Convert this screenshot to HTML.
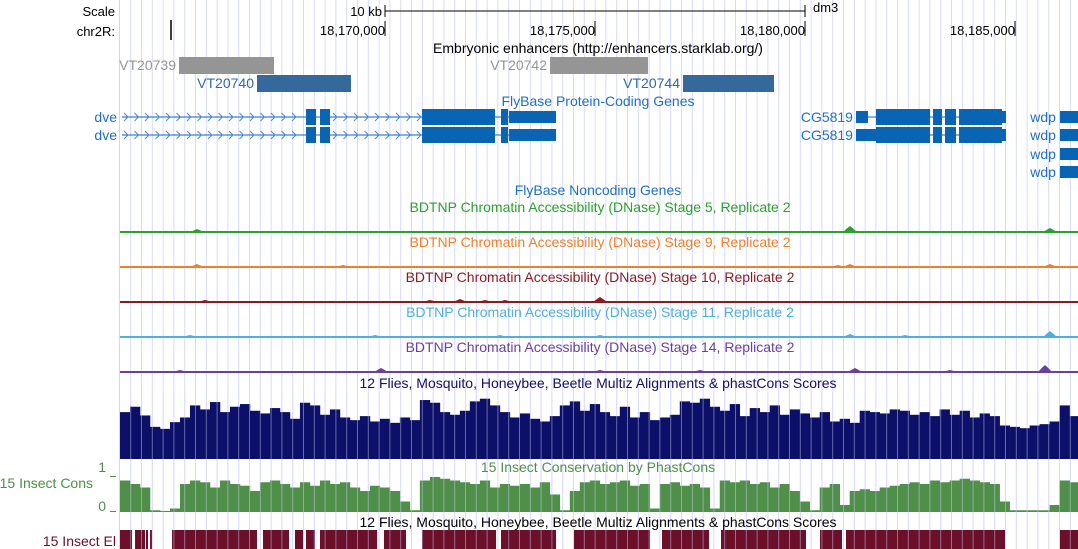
<!DOCTYPE html>
<html><head><meta charset="utf-8"><style>
html,body{margin:0;padding:0;background:#fff;}
svg{display:block;font-family:"Liberation Sans",sans-serif;font-size:13px;}
.tt{font-size:14px;}
</style></head><body>
<svg id="chart" width="1078" height="549" viewBox="0 0 1078 549" xmlns="http://www.w3.org/2000/svg">
<g id="grid"></g>
<line x1="119.5" y1="0" x2="119.5" y2="549" stroke="#ffc8c8"/>
<g id="marks"></g>
<g id="labels"></g>
</svg>
<script>
const viewStart = 18163690, viewEnd = 18186500;
const tickPositions = [18170000, 18175000, 18180000, 18185000];
const tickLabels = ["18,170,000", "18,175,000", "18,180,000", "18,185,000"];
const enhancerNames = ["VT20739", "VT20740", "VT20742", "VT20744"];
const enhancerStarts = [18165095, 18166952, 18173929, 18177095];
const enhancerEnds = [18167357, 18169190, 18176262, 18179262];
const enhancerRows = [0, 1, 0, 1];
const enhancerGrey = [true, false, true, false];
const dveExonStarts = [18168119, 18168452, 18170881, 18172762];
const dveExonEnds = [18168357, 18168690, 18172619, 18172929];
const dveUtr = [18172929, 18174072];
const cgExonStarts = [18181690, 18183048, 18183333, 18183667];
const cgExonEnds = [18182976, 18183262, 18183595, 18184690];
const cgUtr5 = [18181214, 18181500];
const cgUtr3 = [18184690, 18184786];
const wdpStart = 18186071;
const dnaseNames = ["Stage 5", "Stage 9", "Stage 10", "Stage 11", "Stage 14"];
const dnasePeakPos = [
 [18165524, 18168929, 18170238, 18172024, 18172976, 18175119, 18181071, 18185833],
 [18165524, 18169000, 18170310, 18180786, 18181071, 18185833],
 [18165714, 18171071, 18171786, 18172381, 18172857, 18175119, 18181190, 18185833],
 [18165357, 18168690, 18169762, 18172738, 18175119, 18181071, 18182381, 18185833],
 [18165119, 18169905, 18175119, 18177500, 18181190, 18183452, 18185714]
];
const dnasePeakHeights = [
 [3, 1, 1, 1, 1, 1, 6, 4],
 [3, 2, 1, 2, 3, 3],
 [2, 2, 3, 2, 2, 5, 1, 1],
 [2, 1, 2, 2, 2, 3, 2, 6],
 [2, 4, 2, 2, 4, 2, 7]
];
const binStart = 18163690, binSize = 238;
const multizScores = [70,78,65,48,45,55,62,80,74,85,70,78,82,72,68,76,70,60,84,80,66,74,62,58,64,56,60,54,62,58,88,84,70,66,72,86,90,80,70,62,68,60,56,64,80,86,72,82,70,64,78,62,70,58,62,66,86,84,90,78,72,82,64,76,70,80,66,74,68,62,70,56,60,54,72,70,68,74,72,66,70,64,74,66,72,62,68,64,50,48,46,50,52,56,80,64];
const consScores = [.9,.8,.7,.05,.03,.1,.8,.9,.85,.7,.9,.8,.75,.6,.85,.9,.8,.7,.85,.75,.9,.8,.85,.7,.6,.75,.7,.6,.3,.05,.9,1,.95,.9,.85,.8,.9,.7,.8,.75,.8,.7,.85,.5,.05,.6,.85,.9,.8,.85,.9,.75,.8,.1,.8,.85,.75,.8,.7,.1,.9,.85,.9,.8,.85,.7,.8,.6,.3,.05,.7,.8,.2,.6,.65,.6,.7,.75,.8,.85,.8,.9,.85,.9,.95,.9,.85,.8,.3,.05,.05,.05,.05,.2,.9,.85];
const elementStarts = [18163690,18164048,18164309,18164405,18164929,18167095,18167857,18168119,18168452,18169976,18170881,18172762,18174500,18176595,18178000,18180357,18180976,18186071];
const elementEnds = [18163976,18164286,18164357,18164452,18166952,18167714,18168048,18168333,18169810,18170500,18172643,18174072,18176310,18177714,18180024,18180881,18184762,18186500];

const NS = "http://www.w3.org/2000/svg";
const X0 = 120, X1 = 1078;
function xs(p){ return X0 + (p - viewStart) / (viewEnd - viewStart) * (X1 - X0); }
const marks = document.getElementById('marks');
const labels = document.getElementById('labels');
function el(tag, attrs, parent){ const e = document.createElementNS(NS, tag); for (const k in attrs) e.setAttribute(k, attrs[k]); (parent||marks).appendChild(e); return e; }
function txt(x, y, s, fill, anchor, name, cls){
  const t = el('text', {x:x, y:y, fill:fill, 'text-anchor':anchor}, labels);
  if (cls) t.setAttribute('class', cls);
  t.textContent = s;
  
  
  return t;
}

const grid = document.getElementById('grid');
for (let x = 130.7; x < 1078; x += 10.8) {
  const l = el('line', {x1:x.toFixed(1), y1:0, x2:x.toFixed(1), y2:549, stroke:'#d9d9ff', 'stroke-width':1}, grid);
  
  
}

txt(115, 16, "Scale", "#000", "end", "scale-label");
txt(115, 36, "chr2R:", "#000", "end", "chromosome-label");
const sb = el('path', {d:`M${xs(18170000)},5 v12 M${xs(18170000)},11 H${xs(18180000)} M${xs(18180000)},5 v12`, stroke:'#000', fill:'none'});


txt(xs(18170000) - 3, 16, "10 kb", "#000", "end", "scale-bar-label");
txt(xs(18180000) + 8, 12, "dm3", "#000", "start", "assembly-label");
const t0 = el('line', {x1:171, y1:20, x2:171, y2:40, stroke:'#000', 'stroke-width':1.5});


tickPositions.forEach((p, i) => {
  const x = xs(p);
  const t = el('line', {x1:x, y1:21, x2:x, y2:36, stroke:'#000'});
  
  
  txt(x, 35, tickLabels[i], "#000", "end", "ruler-tick-label");
});

txt(598, 53, "Embryonic enhancers (http://enhancers.starklab.org/)", "#000", "middle", "enhancer-track-title", "tt");
enhancerNames.forEach((n, i) => {
  const y = 57 + enhancerRows[i] * 18;
  const c = enhancerGrey[i] ? '#959595' : '#35699b';
  const r = el('rect', {x:xs(enhancerStarts[i]), y:y, width:xs(enhancerEnds[i]) - xs(enhancerStarts[i]), height:17, fill:c});
  
  
  txt(xs(enhancerStarts[i]) - 3, y + 13, n, c, "end", "enhancer-label", "tt");
});

const gc = '#0a64b4', gt = '#1f6fc4';
txt(598, 106, "FlyBase Protein-Coding Genes", gt, "middle", "protein-coding-track-title", "tt");
[117, 135].forEach((cy, row) => {
  txt(117, cy + 5, "dve", gt, "end", "gene-label-dve", "tt");
  const ln = el('line', {x1:122, y1:cy, x2:xs(dveUtr[1]), y2:cy, stroke:gc});
  
  
  let d = '';
  for (let x = 124; x < xs(dveExonStarts[0]) - 5; x += 10.5) d += `M${x},${cy-4} l4,4 l-4,4 `;
  for (let x = xs(dveExonEnds[1]) + 3; x < xs(dveExonStarts[2]) - 5; x += 10.5) d += `M${x},${cy-4} l4,4 l-4,4 `;
  const ch = el('path', {d:d, stroke:'#4a8ad6', fill:'none'});
  
  
  dveExonStarts.forEach((s, i) => {
    const r = el('rect', {x:xs(s), y:cy - 8, width:xs(dveExonEnds[i]) - xs(s), height:16, fill:gc});
    
    
  });
  const u = el('rect', {x:xs(dveUtr[0]) + 1, y:cy - 6, width:xs(dveUtr[1]) - xs(dveUtr[0]) - 1, height:12, fill:gc});
  
  
  txt(xs(cgUtr5[0]) - 3, cy + 5, "CG5819", gt, "end", "gene-label-CG5819", "tt");
  const l2 = el('line', {x1:xs(cgUtr5[0]), y1:cy, x2:xs(cgUtr3[1]), y2:cy, stroke:gc});
  
  
  const u5 = row === 0
    ? el('rect', {x:xs(cgUtr5[0]), y:cy - 6, width:xs(cgUtr5[1]) - xs(cgUtr5[0]), height:12, fill:gc})
    : el('rect', {x:xs(cgUtr5[0]), y:cy - 6, width:xs(cgExonStarts[0]) - xs(cgUtr5[0]), height:12, fill:gc});
  
  
  cgExonStarts.forEach((s, i) => {
    const r = el('rect', {x:xs(s), y:cy - 8, width:xs(cgExonEnds[i]) - xs(s), height:16, fill:gc});
    
    
  });
  const u3 = el('rect', {x:xs(cgUtr3[0]), y:cy - 6, width:xs(cgUtr3[1]) - xs(cgUtr3[0]), height:12, fill:gc});
  
  
});
[117, 135, 154, 172].forEach(cy => {
  txt(xs(wdpStart) - 4, cy + 5, "wdp", gt, "end", "gene-label-wdp", "tt");
  const r = el('rect', {x:xs(wdpStart), y:cy - 6, width:X1 - xs(wdpStart), height:12, fill:gc});
  
  
});
txt(598, 195, "FlyBase Noncoding Genes", gt, "middle", "noncoding-track-title", "tt");

const dnaseColors = ['#2ca02c', '#f07f2a', '#8c1a1f', '#4fb0dd', '#6a3fa0'];
const dnaseBase = [232, 267, 302, 337, 372];
dnaseNames.forEach((n, i) => {
  const b = dnaseBase[i];
  txt(600, b - 20, "BDTNP Chromatin Accessibility (DNase) " + n + ", Replicate 2", dnaseColors[i], "middle", "dnase-track-title", "tt");
  const bl = el('rect', {x:X0, y:b - 1, width:X1 - X0, height:2, fill:dnaseColors[i]});
  
  
  dnasePeakPos[i].forEach((p, j) => {
    const x = xs(p), h = dnasePeakHeights[i][j];
    const pk = el('path', {d:`M${x-7},${b} L${x-3},${b-h*0.6} L${x},${b-h} L${x+3},${b-h*0.6} L${x+7},${b} Z`, fill:dnaseColors[i]});
    
    
  });
});

txt(598, 388, "12 Flies, Mosquito, Honeybee, Beetle Multiz Alignments & phastCons Scores", "#10106a", "middle", "multiz-track-title", "tt");
const mzBase = 459, mzH = 67;
multizScores.forEach((v, i) => {
  const x0 = xs(binStart + i * binSize), x1 = xs(binStart + (i + 1) * binSize);
  const h = v / 100 * mzH;
  const r = el('rect', {x:x0.toFixed(2), y:(mzBase - h).toFixed(2), width:(x1 - x0 + 0.3).toFixed(2), height:h.toFixed(2), fill:'#0c1068'});
  
  
});

txt(598, 472, "15 Insect Conservation by PhastCons", "#4f8f4a", "middle", "conservation-track-title", "tt");
txt(93, 488, "15 Insect Cons", "#4f8f4a", "end", "conservation-track-label", "tt");
txt(106, 472, "1", "#4f8f4a", "end", "y-axis-max-label", "tt");
txt(106, 511, "0", "#4f8f4a", "end", "y-axis-min-label", "tt");
const ax = el('path', {d:'M110,476.5 h6 M110,511.5 h6', stroke:'#4f8f4a'});


const csBase = 512, csH = 35;
consScores.forEach((v, i) => {
  const x0 = xs(binStart + i * binSize), x1 = xs(binStart + (i + 1) * binSize);
  const h = Math.max(1, v * csH);
  const r = el('rect', {x:x0.toFixed(2), y:(csBase - h).toFixed(2), width:(x1 - x0 + 0.3).toFixed(2), height:h.toFixed(2), fill:'#4f8f4a'});
  
  
});

txt(598, 527, "12 Flies, Mosquito, Honeybee, Beetle Multiz Alignments & phastCons Scores", "#000", "middle", "elements-track-title", "tt");
txt(116, 546, "15 Insect El", "#6b0f2a", "end", "elements-track-label", "tt");
elementStarts.forEach((s, i) => {
  const r = el('rect', {x:xs(s), y:530, width:Math.max(1, xs(elementEnds[i]) - xs(s)), height:19, fill:'#6b0f2a'});
  
  
});

for (let x = 130.7; x < 1078; x += 10.8) {
  const l = el('line', {x1:x.toFixed(1), y1:392, x2:x.toFixed(1), y2:549, stroke:'#d9d9ff', 'stroke-width':1, opacity:0.45});
  
  
}
</script>
</body></html>
